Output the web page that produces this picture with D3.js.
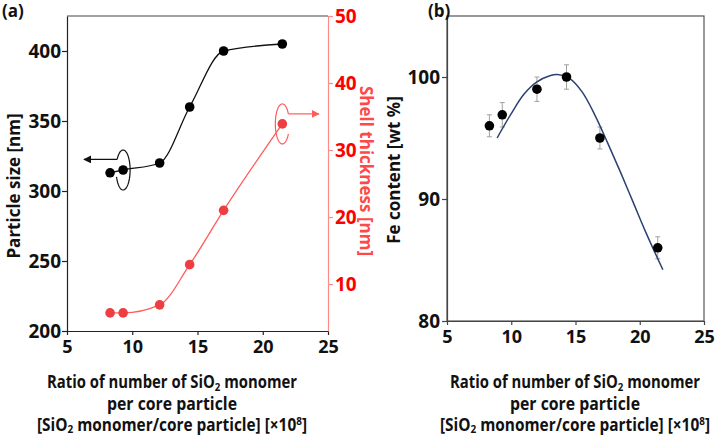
<!DOCTYPE html>
<html>
<head>
<meta charset="utf-8">
<script src="https://cdn.jsdelivr.net/npm/d3@7"></script>
<style>
  html, body { margin: 0; padding: 0; background: #fff; }
  svg { display: block; }
  text { font-family: "Open Sans", "Noto Sans", sans-serif; }
</style>
</head>
<body>
<svg id="chart" width="728" height="437"></svg>
<script>
// ---------------- data ----------------
const ratio = [8.3, 9.3, 12.1, 14.4, 17.0, 21.5];
const particleSize = [313, 315, 320, 360, 400, 405];
const shellThickness = [5.7, 5.7, 6.9, 12.9, 21.0, 33.9];

const ratioB = [8.3, 9.3, 12.0, 14.3, 16.9, 21.4];
const feContent = [96.0, 96.9, 99.0, 100.0, 95.0, 86.0];
const feError = [0.9, 1.0, 1.0, 1.0, 0.9, 0.9];

// fitted curve
const fitX = [8.9, 10, 11, 12, 13, 13.6, 14.5, 15.5, 16.5, 17.5, 18.5, 19.5, 20.5, 21.8];
const fitY = [95.0, 97.0, 98.6, 99.6, 100.1, 100.2, 99.9, 98.8, 96.9, 94.6, 92.2, 89.7, 87.2, 84.2];

const xTicks = [5, 10, 15, 20, 25];
const sizeTicks = [200, 250, 300, 350, 400];
const shellTicks = [10, 20, 30, 40, 50];
const feTicks = [80, 90, 100];

// ---------------- setup ----------------
const svg = d3.select("#chart");
const RED = "#ff0000";
const RED_LINE = "#ff5c5c";
const RED_PT = "#ee3e42";
const AXIS_RED = "#ff8a8a";

const xA = d3.scaleLinear().domain([5, 25]).range([67, 328]);
const yA = d3.scaleLinear().domain([200, 425]).range([331, 16]);
const yA2 = d3.scaleLinear().domain([3, 50]).range([331, 16]);

const xB = d3.scaleLinear().domain([5, 25]).range([447, 704]);
const yB = d3.scaleLinear().domain([80, 105]).range([321, 16]);

function styleAxis(g, color, size, textColor) {
  g.attr("font-size", size).attr("font-family", "Open Sans").attr("font-weight", 700);
  g.selectAll("path.domain").attr("stroke", color).attr("stroke-width", 1.2);
  g.selectAll(".tick line").attr("stroke", color).attr("stroke-width", 1.2);
  g.selectAll(".tick text").attr("fill", textColor || "#111")
    .style("font-size", size + "px").style("font-weight", 700);
}

// ---- panel (a) frame ----
svg.append("line").attr("x1", xA(5)).attr("x2", xA(25)).attr("y1", yA(425)).attr("y2", yA(425))
  .attr("stroke", "#444").attr("stroke-width", 1.2);

const gAx = svg.append("g").attr("transform", `translate(0,${yA(200)})`)
  .call(d3.axisBottom(xA).tickValues(xTicks).tickSize(4).tickPadding(5).tickSizeOuter(0));
styleAxis(gAx, "#222", 18);

const gAy = svg.append("g").attr("transform", `translate(${xA(5)},0)`)
  .call(d3.axisLeft(yA).tickValues(sizeTicks).tickSize(5).tickPadding(1).tickSizeOuter(0));
styleAxis(gAy, "#222", 19);

const gAy2 = svg.append("g").attr("transform", `translate(${xA(25)},0)`)
  .call(d3.axisRight(yA2).tickValues(shellTicks).tickSize(5).tickPadding(2).tickSizeOuter(0));
styleAxis(gAy2, AXIS_RED, 19, RED);

// lines
const lineSize = d3.line().x((d, i) => xA(ratio[i])).y(d => yA(d)).curve(d3.curveMonotoneX);
svg.append("path").attr("d", lineSize(particleSize)).attr("fill", "none")
  .attr("stroke", "#111").attr("stroke-width", 1.3);

const lineShell = d3.line().x((d, i) => xA(ratio[i])).y(d => yA2(d)).curve(d3.curveMonotoneX);
svg.append("path").attr("d", lineShell(shellThickness)).attr("fill", "none")
  .attr("stroke", RED_LINE).attr("stroke-width", 1.3);

svg.append("g").selectAll("circle").data(particleSize).join("circle")
  .attr("cx", (d, i) => xA(ratio[i])).attr("cy", d => yA(d)).attr("r", 4.8).attr("fill", "#000");

svg.append("g").selectAll("circle").data(shellThickness).join("circle")
  .attr("cx", (d, i) => xA(ratio[i])).attr("cy", d => yA2(d)).attr("r", 4.8).attr("fill", RED_PT);

// annotation ellipses + arrows
function ellipseArc(cx, cy, rx, ry, t0, t1) {
  const pts = d3.range(0, 61).map(k => {
    const t = (t0 + (t1 - t0) * k / 60) * Math.PI / 180;
    return [cx + rx * Math.cos(t), cy + ry * Math.sin(t)];
  });
  return d3.line()(pts);
}
const defs = svg.append("defs");
function marker(id, color) {
  defs.append("marker").attr("id", id).attr("viewBox", "0 0 10 10")
    .attr("refX", 9).attr("refY", 5).attr("markerWidth", 8).attr("markerHeight", 8)
    .attr("markerUnits", "userSpaceOnUse").attr("orient", "auto")
    .append("path").attr("d", "M0,0 L10,5 L0,10 Z").attr("fill", color);
}
marker("arrK", "#111");
marker("arrR", RED_LINE);

{
  const cx = xA(ratio[1]), cy = yA(particleSize[1]);
  svg.append("path").attr("d", ellipseArc(cx, cy, 7, 20, 212, 520)).attr("fill", "none")
    .attr("stroke", "#111").attr("stroke-width", 1.2);
  const sx = cx + 7 * Math.cos(212 * Math.PI / 180), sy = cy + 20 * Math.sin(212 * Math.PI / 180);
  svg.append("line").attr("x1", sx).attr("y1", sy).attr("x2", xA(6.3)).attr("y2", sy)
    .attr("stroke", "#111").attr("stroke-width", 1.2).attr("marker-end", "url(#arrK)");
}
{
  const cx = xA(ratio[5]), cy = yA2(shellThickness[5]);
  svg.append("path").attr("d", ellipseArc(cx, cy, 7, 20, 30, 330)).attr("fill", "none")
    .attr("stroke", RED_LINE).attr("stroke-width", 1.2);
  const sx = cx + 7 * Math.cos(330 * Math.PI / 180), sy = cy + 20 * Math.sin(330 * Math.PI / 180);
  svg.append("line").attr("x1", sx).attr("y1", sy).attr("x2", xA(24.3)).attr("y2", sy)
    .attr("stroke", RED_LINE).attr("stroke-width", 1.2).attr("marker-end", "url(#arrR)");
}

// ---- panel (b) ----
svg.append("rect").attr("x", xB(5)).attr("y", yB(105)).attr("width", xB(25) - xB(5))
  .attr("height", yB(80) - yB(105)).attr("fill", "none").attr("stroke", "#555").attr("stroke-width", 1.2);

const gBx = svg.append("g").attr("transform", `translate(0,${yB(80)})`)
  .call(d3.axisBottom(xB).tickValues(xTicks).tickSize(4).tickPadding(5).tickSizeOuter(0));
styleAxis(gBx, "#444", 18);
const gBy = svg.append("g").attr("transform", `translate(${xB(5)},0)`)
  .call(d3.axisLeft(yB).tickValues(feTicks).tickSize(5).tickPadding(2).tickSizeOuter(0));
styleAxis(gBy, "#444", 19);

const eb = svg.append("g").attr("stroke", "#a0a0a0").attr("stroke-width", 1);
feContent.forEach((v, i) => {
  const x = xB(ratioB[i]);
  eb.append("line").attr("x1", x).attr("x2", x).attr("y1", yB(v - feError[i])).attr("y2", yB(v + feError[i]));
  eb.append("line").attr("x1", x - 2.5).attr("x2", x + 2.5).attr("y1", yB(v - feError[i])).attr("y2", yB(v - feError[i]));
  eb.append("line").attr("x1", x - 2.5).attr("x2", x + 2.5).attr("y1", yB(v + feError[i])).attr("y2", yB(v + feError[i]));
});

const fitLine = d3.line().x((d, i) => xB(fitX[i])).y(d => yB(d)).curve(d3.curveCatmullRom);
svg.append("path").attr("d", fitLine(fitY)).attr("fill", "none")
  .attr("stroke", "#2b4170").attr("stroke-width", 1.5);

svg.append("g").selectAll("circle").data(feContent).join("circle")
  .attr("cx", (d, i) => xB(ratioB[i])).attr("cy", d => yB(d)).attr("r", 4.8).attr("fill", "#000");

// ---- titles ----
function txt(x, y, s, opts = {}) {
  return svg.append("text").attr("x", x).attr("y", y).text(s)
    .style("font-size", (opts.size || 17) + "px").style("font-weight", opts.weight || 700)
    .attr("fill", opts.fill || "#111").attr("text-anchor", opts.anchor || "start");
}
txt(2, 17, "(a)");
txt(428, 17, "(b)");

svg.append("text").attr("transform", "translate(14,186) rotate(-90)").attr("text-anchor", "middle")
  .attr("dy", "0.35em").style("font-size", "17px").style("font-weight", 700).attr("fill", "#111")
  .text("Particle size [nm]");
svg.append("text").attr("transform", "translate(366,171) rotate(90)").attr("text-anchor", "middle")
  .attr("dy", "0.35em").style("font-size", "17px").style("font-weight", 700).attr("fill", "#ff4848")
  .text("Shell thickness [nm]");
svg.append("text").attr("transform", "translate(394,170) rotate(-90)").attr("text-anchor", "middle")
  .attr("dy", "0.35em").style("font-size", "17px").style("font-weight", 700).attr("fill", "#111")
  .text("Fe content [wt %]");

function xTitle(cx) {
  const t1 = svg.append("text").attr("x", cx).attr("y", 388).attr("text-anchor", "middle")
    .attr("textLength", 250).attr("lengthAdjust", "spacingAndGlyphs")
    .style("font-size", "17px").style("font-weight", 700).attr("fill", "#111");
  t1.append("tspan").text("Ratio of number of SiO");
  t1.append("tspan").text("2").style("font-size", "11px").attr("dy", 3);
  t1.append("tspan").text(" monomer").attr("dy", -3);
  svg.append("text").attr("x", cx).attr("y", 410).attr("text-anchor", "middle")
    .attr("textLength", 130).attr("lengthAdjust", "spacingAndGlyphs")
    .style("font-size", "17px").style("font-weight", 700).attr("fill", "#111").text("per core particle");
  const t3 = svg.append("text").attr("x", cx).attr("y", 431).attr("text-anchor", "middle")
    .attr("textLength", 270).attr("lengthAdjust", "spacingAndGlyphs")
    .style("font-size", "17px").style("font-weight", 700).attr("fill", "#111");
  t3.append("tspan").text("[SiO");
  t3.append("tspan").text("2").style("font-size", "11px").attr("dy", 2);
  t3.append("tspan").text(" monomer/core particle] [×10").attr("dy", -2);
  t3.append("tspan").text("8").style("font-size", "11px").attr("dy", -6);
  t3.append("tspan").text("]").attr("dy", 6);
}
xTitle(172);
xTitle(575);
</script>
</body>
</html>
